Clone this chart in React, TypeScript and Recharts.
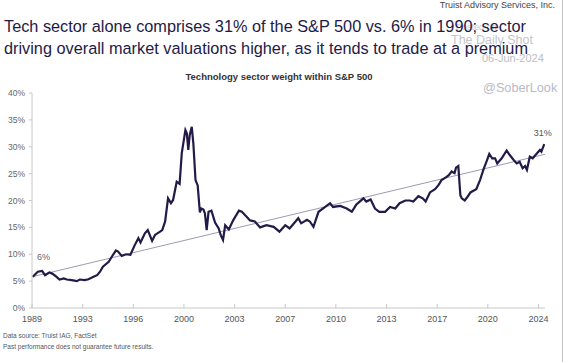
import { LineChart, Line, XAxis, YAxis, ReferenceDot } from 'recharts'

// decimal year of each reading
const years = [
  1989.05, 1989.4, 1989.7, 1989.9, 1990.2, 1990.4, 1990.7, 1990.9, 1991.2, 1991.4,
  1991.75, 1992.1, 1992.3, 1992.65, 1992.9, 1993.25, 1993.5, 1993.7, 1993.9, 1994.3,
  1994.6, 1994.8, 1994.95, 1995.2, 1995.5, 1995.8, 1996.1, 1996.35, 1996.5, 1996.8,
  1997.0, 1997.3, 1997.5, 1997.85, 1998.0, 1998.2, 1998.4, 1998.6, 1998.75, 1999.0,
  1999.2, 1999.35, 1999.6, 1999.7, 1999.8, 1999.9, 2000.04, 2000.15, 2000.3, 2000.45,
  2000.6, 2000.7, 2000.85, 2000.95, 2001.07, 2001.2, 2001.4, 2001.65, 2001.9, 2002.05,
  2002.2, 2002.35, 2002.6, 2002.9, 2003.3, 2003.5, 2003.75, 2004.07, 2004.4, 2004.76,
  2005.2, 2005.7, 2006.1, 2006.5, 2006.8, 2007.4, 2007.6, 2008.0, 2008.2, 2008.45,
  2008.8, 2009.1, 2009.6, 2009.8, 2010.3, 2010.75, 2011.1, 2011.4, 2011.9, 2012.1,
  2012.4, 2012.7, 2013.0, 2013.4, 2013.74, 2014.1, 2014.4, 2014.8, 2015.1, 2015.35,
  2015.7, 2016.0, 2016.2, 2016.5, 2016.85, 2017.1, 2017.3, 2017.6, 2017.8, 2018.0,
  2018.2, 2018.3, 2018.46, 2018.6, 2018.7, 2018.9, 2019.1, 2019.3, 2019.5, 2019.7,
  2019.96, 2020.2, 2020.4, 2020.6, 2020.8, 2021.0, 2021.15, 2021.34, 2021.46, 2021.8,
  2022.0, 2022.3, 2022.5, 2022.7, 2022.9, 2023.07, 2023.2, 2023.4, 2023.6, 2023.9,
  2024.1, 2024.2, 2024.4,
]

// tech sector weight in the S&P 500, %
const weights = [
  5.8, 6.75, 6.9, 6.1, 6.6, 6.4, 5.8, 5.3, 5.5, 5.3,
  5.2, 5.0, 5.3, 5.2, 5.35, 5.8, 6.1, 6.75, 7.7, 8.6,
  9.9, 10.7, 10.5, 9.7, 10.0, 9.9, 11.7, 13.0, 12.2, 13.9,
  14.5, 12.5, 13.6, 14.2, 14.5, 16.1, 20.4, 19.5, 20.1, 23.5,
  23.1, 28.8, 33.1, 32.5, 29.4, 32.2, 33.7, 30.6, 23.8, 22.8,
  17.8, 18.5, 18.3, 17.6, 14.5, 17.9, 18.1, 15.9, 14.8, 13.5,
  12.65, 15.4, 14.6, 16.3, 18.1, 17.9, 17.2, 16.3, 16.1, 15.0,
  15.4, 15.1, 14.2, 15.4, 14.8, 16.7, 15.75, 16.4, 16.1, 15.1,
  17.9, 18.5, 19.5, 18.8, 19.0, 18.5, 17.9, 19.2, 20.4, 19.8,
  20.2, 18.5, 17.9, 17.9, 18.8, 18.5, 19.5, 20.0, 20.0, 19.8,
  20.8, 20.4, 19.8, 21.5, 22.1, 22.9, 23.8, 24.3, 24.7, 25.4,
  25.1, 26.1, 26.4, 21.0, 20.4, 20.0, 20.7, 21.5, 21.8, 22.1,
  23.8, 25.8, 27.2, 28.65, 27.85, 27.85, 26.9, 27.5, 27.85, 29.3,
  28.5, 27.5, 26.9, 27.2, 26.0, 26.4, 25.7, 28.15, 27.85, 28.8,
  29.4, 29.1, 30.5,
]

// straight trend line, first and last point
const trendYears = [1989.0, 2024.45]
const trendValues = [5.8, 28.6]

const xTicks = [1989, 1992.5, 1996, 1999.5, 2003, 2006.5, 2010, 2013.5, 2017, 2020.5, 2024]
const xTickLabels = ['1989', '1993', '1996', '2000', '2003', '2007', '2010', '2013', '2017', '2020', '2024']
const yTicks = [0, 5, 10, 15, 20, 25, 30, 35, 40]

const data = years.map((year, i) => ({ year, weight: weights[i] }))
const trend = trendYears.map((year, i) => ({ year, trend: trendValues[i] }))

const FONT = '"Liberation Sans", Arial, sans-serif'
const NAVY = '#231a47'

export default function App() {
  return (
    <div style={{
      position: 'absolute', left: 0, top: 0, width: 563, height: 362,
      background: '#fff', fontFamily: FONT, overflow: 'hidden',
      borderRight: '1px solid #c4c4c4', boxSizing: 'border-box',
    }}>
      {/* watermark, sits behind the headline */}
      <div style={{ position: 'absolute', left: 456, top: 22, fontSize: 9, color: '#c9c9d0' }}>Posted on</div>
      <div style={{ position: 'absolute', left: 451, top: 33, fontSize: 12.5, color: '#c4c4cc' }}>The Daily Shot</div>
      <div style={{ position: 'absolute', left: 482, top: 52, fontSize: 11, color: '#bdbdc6' }}>06-Jun-2024</div>
      <div style={{ position: 'absolute', left: 483, top: 81, fontSize: 12.7, color: '#b9b9c6' }}>@SoberLook</div>

      <div style={{ position: 'absolute', right: 7, top: 0, fontSize: 9, color: '#444' }}>
        Truist Advisory Services, Inc.
      </div>
      <div style={{
        position: 'absolute', left: 4, top: 16, fontSize: 16.3, lineHeight: '21.5px',
        color: NAVY, whiteSpace: 'nowrap',
      }}>
        Tech sector alone comprises 31% of the S&amp;P 500 vs. 6% in 1990; sector<br />
        driving overall market valuations higher, as it tends to trade at a premium
      </div>
      <div style={{
        position: 'absolute', left: 0, width: 558, top: 71, textAlign: 'center',
        fontSize: 9.5, fontWeight: 'bold', color: '#333',
      }}>
        Technology sector weight within S&amp;P 500
      </div>

      <div style={{ position: 'absolute', left: 0, top: 0 }}>
        <LineChart width={563} height={362} data={data} margin={{ top: 93, right: 18, bottom: 34, left: 2 }}>
          <XAxis
            dataKey="year"
            type="number"
            domain={[1989, 2024.45]}
            ticks={xTicks}
            tickFormatter={(v: number) => xTickLabels[xTicks.indexOf(v)] ?? ''}
            height={20}
            stroke="#c8c8c8"
            tickSize={-4}
            tickMargin={12}
            tick={{ fill: '#555', fontSize: 9, fontFamily: FONT }}
            allowDataOverflow
          />
          <YAxis
            type="number"
            domain={[0, 40]}
            ticks={yTicks}
            tickFormatter={(v: number) => `${v}%`}
            width={30}
            stroke="#c8c8c8"
            tickSize={3}
            tickMargin={4}
            tick={{ fill: '#666', fontSize: 8.5, fontFamily: FONT }}
          />
          <Line
            data={trend}
            dataKey="trend"
            type="linear"
            stroke="#9d9ab3"
            strokeWidth={1}
            dot={false}
            isAnimationActive={false}
          />
          <Line
            dataKey="weight"
            type="linear"
            stroke={NAVY}
            strokeWidth={2.2}
            dot={false}
            isAnimationActive={false}
          />
          <ReferenceDot x={1989.8} y={9.5} r={1} fill="none" stroke="none"
            label={{ value: '6%', position: 'center', fill: '#666', fontSize: 9, fontFamily: FONT }} />
          <ReferenceDot x={2024.3} y={32.6} r={1} fill="none" stroke="none"
            label={{ value: '31%', position: 'center', fill: '#555', fontSize: 9, fontFamily: FONT }} />
        </LineChart>
      </div>

      <div style={{ position: 'absolute', left: 3, top: 332, fontSize: 6.5, color: '#555' }}>
        Data source: Truist IAG, FactSet
      </div>
      <div style={{ position: 'absolute', left: 3, top: 343, fontSize: 6.5, color: '#555' }}>
        Past performance does not guarantee future results.
      </div>
    </div>
  )
}
